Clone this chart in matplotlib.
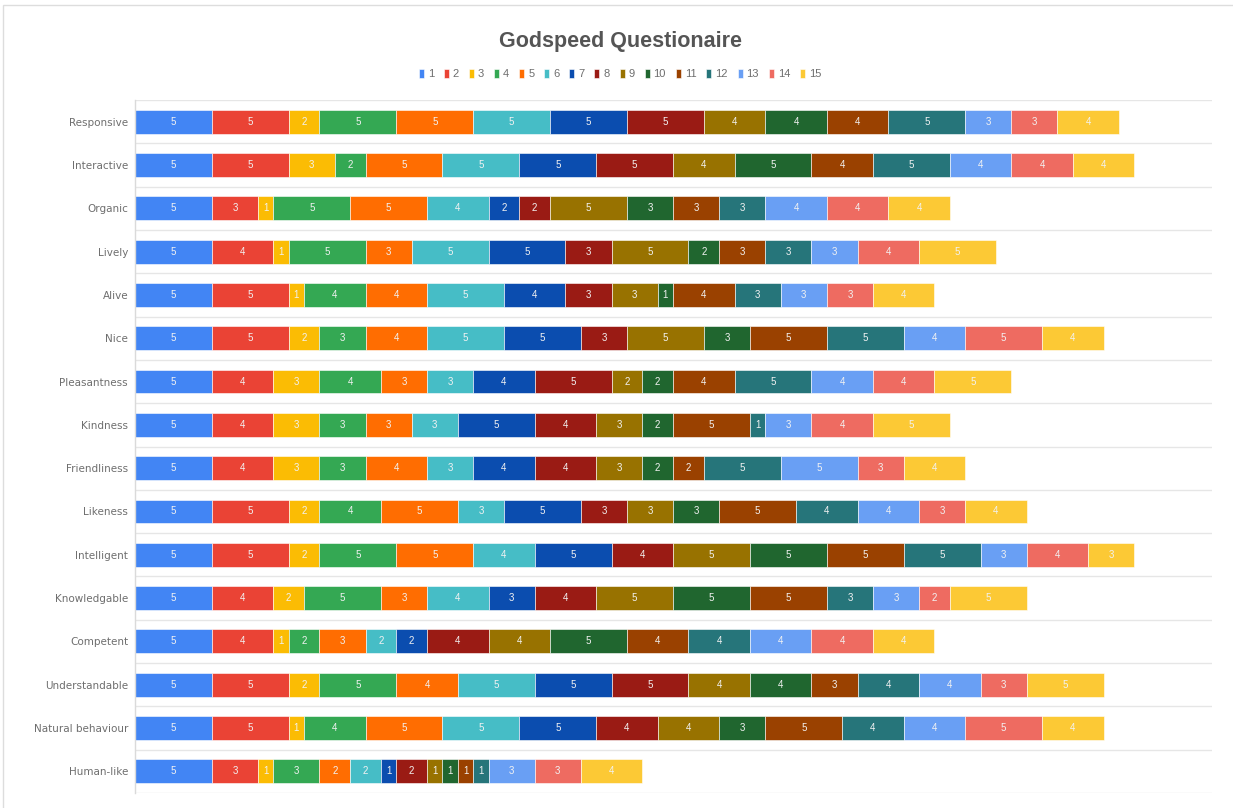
import matplotlib.pyplot as plt
from matplotlib.patches import Rectangle
import numpy as np

plt.rcParams['font.family'] = ['Liberation Sans', 'DejaVu Sans']

# Categories (top to bottom)
categories = [
    "Responsive", "Interactive", "Organic", "Lively", "Alive", "Nice",
    "Pleasantness", "Kindness", "Friendliness", "Likeness", "Intelligent",
    "Knowledgable", "Competent", "Understandable", "Natural behaviour", "Human-like",
]
series_names = [str(i) for i in range(1, 16)]

# one row per category, one column per series (participant 1..15)
responsive     = [5, 5, 2, 5, 5, 5, 5, 5, 4, 4, 4, 5, 3, 3, 4]
interactive    = [5, 5, 3, 2, 5, 5, 5, 5, 4, 5, 4, 5, 4, 4, 4]
organic        = [5, 3, 1, 5, 5, 4, 2, 2, 5, 3, 3, 3, 4, 4, 4]
lively         = [5, 4, 1, 5, 3, 5, 5, 3, 5, 2, 3, 3, 3, 4, 5]
alive          = [5, 5, 1, 4, 4, 5, 4, 3, 3, 1, 4, 3, 3, 3, 4]
nice           = [5, 5, 2, 3, 4, 5, 5, 3, 5, 3, 5, 5, 4, 5, 4]
pleasantness   = [5, 4, 3, 4, 3, 3, 4, 5, 2, 2, 4, 5, 4, 4, 5]
kindness       = [5, 4, 3, 3, 3, 3, 5, 4, 3, 2, 5, 1, 3, 4, 5]
friendliness   = [5, 4, 3, 3, 4, 3, 4, 4, 3, 2, 2, 5, 5, 3, 4]
likeness       = [5, 5, 2, 4, 5, 3, 5, 3, 3, 3, 5, 4, 4, 3, 4]
intelligent    = [5, 5, 2, 5, 5, 4, 5, 4, 5, 5, 5, 5, 3, 4, 3]
knowledgable   = [5, 4, 2, 5, 3, 4, 3, 4, 5, 5, 5, 3, 3, 2, 5]
competent      = [5, 4, 1, 2, 3, 2, 2, 4, 4, 5, 4, 4, 4, 4, 4]
understandable = [5, 5, 2, 5, 4, 5, 5, 5, 4, 4, 3, 4, 4, 3, 5]
natural        = [5, 5, 1, 4, 5, 5, 5, 4, 4, 3, 5, 4, 4, 5, 4]
human_like     = [5, 3, 1, 3, 2, 2, 1, 2, 1, 1, 1, 1, 3, 3, 4]

scores = np.array([
    responsive, interactive, organic, lively, alive, nice, pleasantness,
    kindness, friendliness, likeness, intelligent, knowledgable, competent,
    understandable, natural, human_like,
])

colors = ['#4285F4', '#EA4335', '#FBBC04', '#34A853', '#FF6D01', '#46BDC6',
          '#0B4DAF', '#9A1B14', '#987200', '#20662F', '#9A4100', '#26757A',
          '#699FF4', '#EE6B61', '#FCC935']

fig = plt.figure(figsize=(12.33, 8.08), dpi=100)
ax = fig.add_axes([135/1233, 1 - 793/808, (1212-135)/1233, (793-100)/808])

y = np.arange(len(categories))
left = np.zeros(len(categories))
for j, name in enumerate(series_names):
    vals = scores[:, j]
    bars = ax.barh(y, vals, left=left, height=0.55, color=colors[j],
                   edgecolor='white', linewidth=0.4, label=name)
    for bar, v in zip(bars, vals):
        ax.text(bar.get_x() + bar.get_width()/2, bar.get_y() + bar.get_height()/2,
                str(v), ha='center', va='center', fontsize=7, color='#F2F2F2')
    left += vals

ax.set_xlim(0, 70.05)
ax.set_ylim(len(categories) - 0.5, -0.5)
ax.set_yticks(y)
ax.set_yticklabels(categories, fontsize=7.5, color='#6E6E6E', family='DejaVu Sans')
ax.tick_params(axis='y', length=0, pad=5)
ax.set_xticks([])

# row separators
for b in np.arange(-0.5, len(categories) + 0.5, 1):
    ax.axhline(b, color='#E6E6E6', linewidth=1.0, zorder=0)

for s in ['top', 'right', 'bottom']:
    ax.spines[s].set_visible(False)
ax.spines['left'].set_color('#DADADA')
ax.spines['left'].set_linewidth(1.0)

fig.text(0.503, 1 - 42/808, "Godspeed Questionaire", ha='center', va='center',
         fontsize=15.5, fontweight='bold', color='#555555')

handles, labels = ax.get_legend_handles_labels()
fig.legend(handles, labels, loc='center', bbox_to_anchor=(0.503, 1 - 74/808),
           ncol=15, frameon=False, fontsize=8, handlelength=0.45,
           handleheight=0.9, handletextpad=0.35, columnspacing=0.9,
           labelcolor='#6E6E6E')

# light outer frame of the chart card
fig.patches.append(Rectangle((3/1233, -0.01), 1.02, 1 - 5/808 + 0.01,
                             transform=fig.transFigure, fill=False,
                             edgecolor='#DDDDDD', linewidth=1.0))

fig.savefig("out.png", dpi=100, facecolor='white')
